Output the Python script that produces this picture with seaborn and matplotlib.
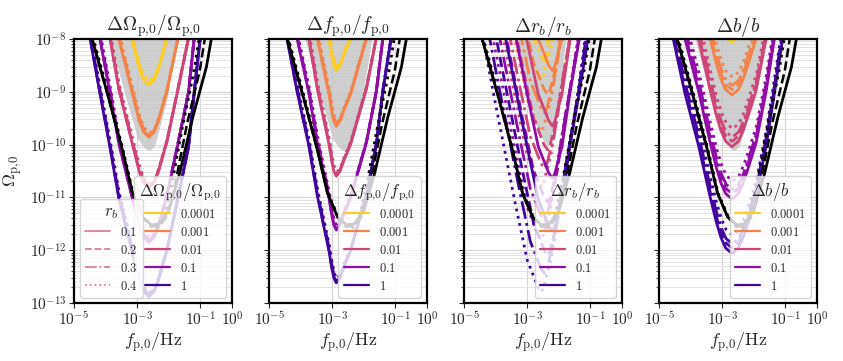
import numpy as np
import pandas as pd
import matplotlib
matplotlib.use('Agg')
import matplotlib.pyplot as plt
from matplotlib.lines import Line2D
from matplotlib.ticker import LogLocator, NullLocator, NullFormatter
import seaborn as sns

# ---- values (all in log10) ----
deltas = ['0.0001', '0.001', '0.01', '0.1', '1']
r_bs = ['0.1', '0.2', '0.3', '0.4']
titles = [r'$\Delta\Omega_{\rm p{,}0}/\Omega_{\rm p{,}0}$', r'$\Delta f_{\rm p{,}0}/f_{\rm p{,}0}$',
          r'$\Delta r_b/r_b$', r'$\Delta b/b$']

# U-shape of the curves in each panel: rise above the minimum and left/right offsets
omega_dy = [0, 0.1, 0.3, 0.87, 1.86, 2.82, 3.85, 4.88, 6.0]
omega_left = [0, -0.17, -0.30, -0.54, -0.95, -1.23, -1.55, -1.86, -2.2]
omega_right = [0, 0.17, 0.30, 0.57, 0.92, 1.25, 1.43, 1.62, 1.8]

f_dy = [0, 0.1, 0.3, 0.6, 1.65, 2.6, 3.62, 4.62, 6.0]
f_left = [0, -0.08, -0.15, -0.23, -0.60, -0.87, -1.24, -1.56, -2.0]
f_right = [0, 0.12, 0.24, 0.45, 0.95, 1.26, 1.47, 1.73, 2.0]

rb_dy = [0, 0.1, 0.3, 0.6, 1.65, 2.64, 3.64, 4.64, 6.0]
rb_left = [0, -0.12, -0.25, -0.45, -0.82, -1.15, -1.48, -1.80, -2.2]
rb_right = [0, 0.08, 0.16, 0.30, 0.56, 0.85, 1.12, 1.35, 1.6]

b_dy = [0, 0.1, 0.3, 0.6, 1.06, 2.04, 3.03, 4.06, 5.5]
b_left = [0, -0.20, -0.35, -0.50, -0.69, -1.06, -1.49, -1.86, -2.3]
b_right = [0, 0.20, 0.35, 0.52, 0.76, 1.08, 1.34, 1.60, 1.9]

# curve minima: frequency per r_b, Omega per (Delta, r_b)
omega_min_f = [-2.63, -2.63, -2.62, -2.61]
omega_min_y = [[-8.87, -8.85, -8.83, -8.79],
               [-9.86, -9.84, -9.82, -9.78],
               [-10.82, -10.80, -10.78, -10.74],
               [-11.85, -11.83, -11.81, -11.77],
               [-12.88, -12.86, -12.84, -12.80]]

f_min_f = [-2.87, -2.87, -2.86, -2.85]
f_min_y = [[-8.60, -8.58, -8.56, -8.52],
           [-9.65, -9.63, -9.61, -9.57],
           [-10.60, -10.58, -10.56, -10.52],
           [-11.62, -11.60, -11.58, -11.54],
           [-12.62, -12.60, -12.58, -12.54]]

rb_min_f = [-2.20, -2.35, -2.45, -2.55]
rb_min_y = [[-7.62, -8.07, -8.42, -8.77],
            [-8.60, -9.05, -9.40, -9.75],
            [-9.65, -10.10, -10.45, -10.80],
            [-10.64, -11.09, -11.44, -11.79],
            [-11.64, -12.09, -12.44, -12.79]]

b_min_f = [-2.69, -2.69, -2.68, -2.67]
b_min_y = [[-8.06, -7.96, -7.88, -7.72],
           [-9.06, -8.96, -8.88, -8.72],
           [-10.04, -9.94, -9.86, -9.70],
           [-11.03, -10.93, -10.85, -10.69],
           [-12.06, -11.96, -11.88, -11.72]]

# grey band (same in panels 1, 2, 4; panel 3 differs)
band_f = [-3.90, -3.33, -2.97, -2.75, -2.60, -2.45, -2.37, -2.04, -1.70]
band_y = [-7.9, -9.15, -9.90, -10.08, -10.12, -10.05, -9.90, -9.15, -7.9]
band_rb_f = [-3.45, -3.00, -2.65, -2.40, -2.30, -2.22, -2.00, -1.74]
band_rb_y = [-7.9, -9.00, -9.75, -10.00, -10.02, -9.90, -9.20, -7.9]

# black reference curves
black_solid_f = [-4.45, -3.89, -3.47, -3.15, -2.83, -2.55, -2.30, -2.00, -1.66, -1.24, -0.81, -0.64]
black_solid_y = [-7.95, -9.15, -10.10, -10.92, -11.37, -11.52, -11.50, -11.25, -10.55, -9.48, -8.53, -7.95]
black_dash_f = [-4.45, -3.89, -3.47, -3.15, -2.83, -2.55, -2.30, -2.05, -1.80, -1.42, -1.02, -0.85]
black_dash_y = [-7.95, -9.15, -10.10, -10.92, -11.37, -11.55, -11.55, -11.35, -10.75, -9.60, -8.60, -7.95]
black_dot_f = [-4.41, -3.86, -3.45, -3.13, -2.81, -2.55, -2.35, -2.15, -1.92, -1.58, -1.20, -1.03]
black_dot_y = [-7.95, -9.15, -10.10, -10.92, -11.37, -11.56, -11.58, -11.40, -10.80, -9.70, -8.60, -7.95]

panels = [
    (omega_dy, omega_left, omega_right, omega_min_f, omega_min_y, band_f, band_y),
    (f_dy, f_left, f_right, f_min_f, f_min_y, band_f, band_y),
    (rb_dy, rb_left, rb_right, rb_min_f, rb_min_y, band_rb_f, band_rb_y),
    (b_dy, b_left, b_right, b_min_f, b_min_y, band_f, band_y),
]

cmap = sns.color_palette('plasma', as_cmap=True)
palette = {d: cmap(v) for d, v in zip(deltas, [0.9, 0.7, 0.5, 0.3, 0.1])}
dashes = {'0.1': '', '0.2': (3.7, 1.6), '0.3': (6.4, 1.6, 1, 1.6), '0.4': (1, 1.65)}
ls_map = {'0.1': '-', '0.2': '--', '0.3': '-.', '0.4': ':'}

sns.set_style('ticks')
plt.rcParams.update({
    'font.family': 'serif',
    'font.serif': ['cmr10', 'DejaVu Serif'],
    'mathtext.fontset': 'cm',
    'axes.formatter.use_mathtext': True,
    'axes.unicode_minus': False,
})


def build_curves(dy, left, right, min_f, min_y):
    rows = []
    for i, d in enumerate(deltas):
        for j, r in enumerate(r_bs):
            x0, y0 = min_f[j], min_y[i][j]
            xs = [x0 + v for v in left[::-1]] + [x0 + v for v in right[1:]]
            ys = [y0 + v for v in dy[::-1]] + [y0 + v for v in dy[1:]]
            for x, y in zip(xs, ys):
                rows.append({'f': 10 ** x, 'omega': 10 ** y, 'delta': d, 'rb': r})
    return pd.DataFrame(rows)


fig, axes = plt.subplots(1, 4, figsize=(8.43, 3.61), dpi=100, sharey=True)
fig.subplots_adjust(left=0.0878, right=0.9692, bottom=0.1607, top=0.892, wspace=0.2344)

xlab = r'$f_{\rm p{,}0}/{\rm Hz}$'
for p, ax in enumerate(axes):
    dy, left, right, min_f, min_y, bf, by = panels[p]
    ax.set_xscale('log')
    ax.set_yscale('log')

    ax.fill(10 ** np.array(bf), 10 ** np.array(by), color='#c4c4c4', alpha=0.8, lw=0, zorder=1.6)

    df = build_curves(dy, left, right, min_f, min_y)
    sns.lineplot(data=df, x='f', y='omega', hue='delta', style='rb', palette=palette,
                 dashes=dashes, sort=False, estimator=None, lw=2, legend=False, ax=ax, zorder=2)

    ax.plot(10 ** np.array(black_solid_f), 10 ** np.array(black_solid_y), color='k', lw=2, zorder=2.5)
    ax.plot(10 ** np.array(black_dash_f), 10 ** np.array(black_dash_y), color='k', lw=1.8, ls='--', zorder=2.5)
    ax.plot(10 ** np.array(black_dot_f), 10 ** np.array(black_dot_y), color='k', lw=2, ls=':', zorder=2.5)

    ax.set_xlim(1e-5, 1)
    ax.set_ylim(1e-13, 1e-8)
    ax.set_xticks([1e-5, 1e-3, 1e-1, 1])
    ax.xaxis.set_minor_locator(NullLocator())
    ax.yaxis.set_major_locator(LogLocator(base=10, numticks=20))
    ax.yaxis.set_minor_locator(LogLocator(base=10, subs=np.arange(2, 10), numticks=20))
    ax.yaxis.set_minor_formatter(NullFormatter())
    ax.grid(True, which='major', color='#d4d4d4', lw=0.8)
    ax.grid(True, which='minor', axis='y', color='#e2e2e2', lw=0.7)
    for s in ax.spines.values():
        s.set_linewidth(1.6)
        s.set_color('k')
    ax.tick_params(labelsize=11, pad=2)
    ax.set_title(titles[p], fontsize=14, pad=3)
    ax.set_xlabel(xlab, fontsize=13, labelpad=1)
    if p == 0:
        ax.set_ylabel(r'$\Omega_{\rm p{,}0}$', fontsize=13)
    else:
        ax.set_ylabel(None)

    handles = [Line2D([], [], color=palette[d], lw=1.6) for d in deltas]
    leg = ax.legend(handles, ['$%s$' % d for d in deltas], title=titles[p], loc='lower right',
                    bbox_to_anchor=(0.96, 0.02), borderaxespad=0, fontsize=9, title_fontsize=12,
                    handlelength=2.0, labelspacing=0.4)
    leg.set_zorder(5)
    if p == 0:
        ax.add_artist(leg)
        rb_handles = [Line2D([], [], color=palette['0.01'], alpha=0.7, lw=1.3, ls=ls_map[r]) for r in r_bs]
        leg2 = ax.legend(rb_handles, ['$%s$' % r for r in r_bs], title=r'$r_b$', loc='lower left',
                         bbox_to_anchor=(0.04, 0.02), borderaxespad=0, fontsize=9, title_fontsize=12,
                         handlelength=2.0, labelspacing=0.4)
        leg2.set_zorder(5)

plt.savefig('out.png', dpi=100)
